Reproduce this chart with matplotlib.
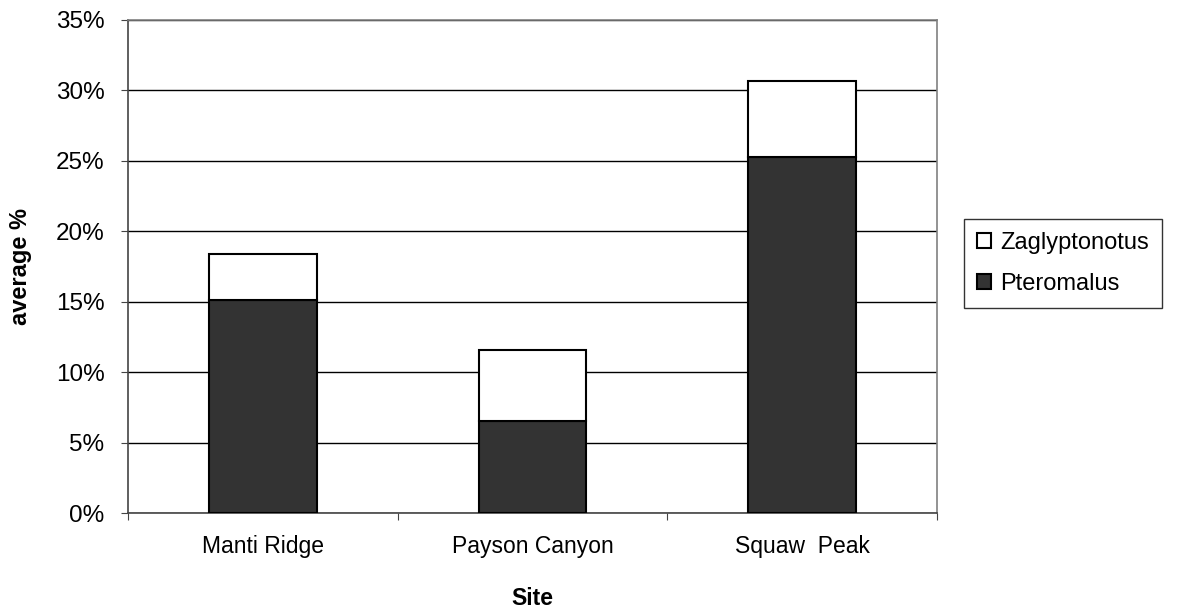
import matplotlib.pyplot as plt
from matplotlib.ticker import FuncFormatter

plt.rcParams['font.family'] = ['Liberation Sans', 'DejaVu Sans']

sites = ['Manti Ridge', 'Payson Canyon', 'Squaw  Peak']
pteromalus = [15.1, 6.5, 25.3]
zaglyptonotus = [3.3, 5.1, 5.4]

fig = plt.figure(figsize=(11.8, 6.15), dpi=100)
ax = fig.add_axes([128/1180, 1 - 513/615, (937-128)/1180, (513-20)/615])

x = range(len(sites))
bar_width = 0.40
ax.bar(x, pteromalus, width=bar_width, color='#333333', edgecolor='black',
       linewidth=1.5, label='Pteromalus', zorder=3)
ax.bar(x, zaglyptonotus, width=bar_width, bottom=pteromalus, color='white',
       edgecolor='black', linewidth=1.5, label='Zaglyptonotus', zorder=3)

ax.set_xlim(-0.5, 2.5)
ax.set_ylim(0, 35)
ax.set_yticks(range(0, 36, 5))
ax.yaxis.set_major_formatter(FuncFormatter(lambda v, p: '%d%%' % v))
ax.grid(axis='y', color='black', linewidth=1, zorder=0)

ax.set_xticks([-0.5, 0.5, 1.5, 2.5])
ax.set_xticklabels([])
ax.set_xticks(list(x), minor=True)
ax.set_xticklabels(sites, minor=True, fontsize=16.5)
ax.tick_params(axis='x', which='major', direction='out', length=5, color='#444444')
ax.tick_params(axis='x', which='minor', length=0, pad=16)
ax.tick_params(axis='y', direction='out', length=5, labelsize=17.5, pad=12, color='#444444')

for side in ['top', 'right']:
    ax.spines[side].set_color('#808080')
for side in ['left', 'bottom']:
    ax.spines[side].set_color('#444444')
for s in ax.spines.values():
    s.set_linewidth(1.2)

ax.set_xlabel('Site', fontsize=16.5, fontweight='bold', labelpad=21)
ax.set_ylabel('average %', fontsize=17, fontweight='bold', labelpad=17)

handles, labels = ax.get_legend_handles_labels()
leg = fig.legend(handles[::-1], labels[::-1], loc='upper left',
                 bbox_to_anchor=(964/1180, 1 - 219/615), fontsize=17,
                 handlelength=0.6, handleheight=0.6, handletextpad=0.4,
                 frameon=True, fancybox=False, edgecolor='black',
                 borderpad=0.55, labelspacing=0.8, borderaxespad=0)
leg.get_frame().set_linewidth(1.0)

fig.savefig('out.png', dpi=100)
